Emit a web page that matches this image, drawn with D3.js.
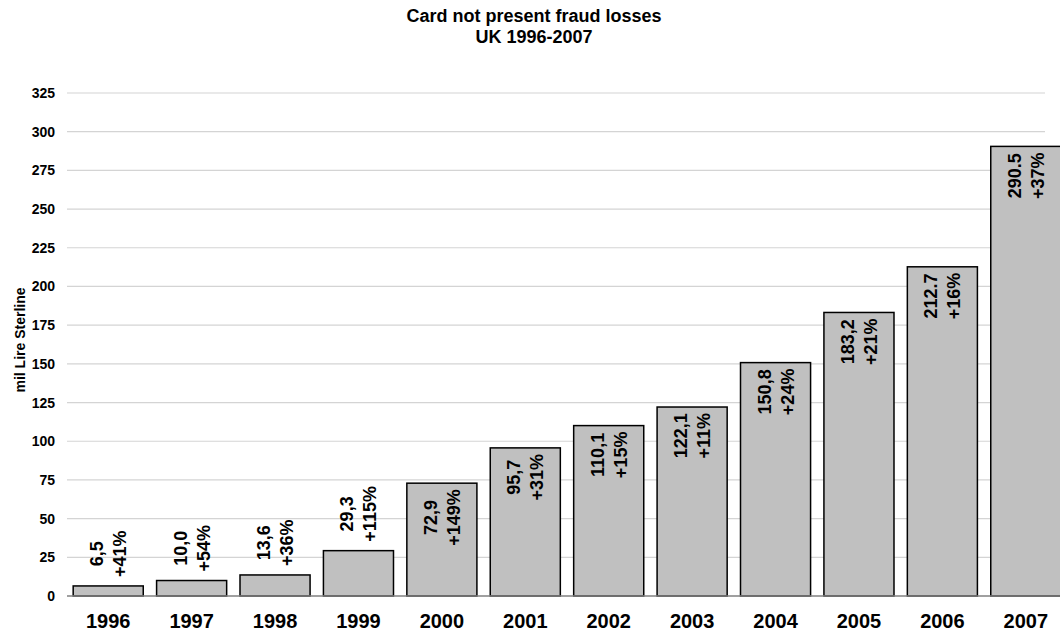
<!DOCTYPE html>
<html>
<head>
<meta charset="utf-8">
<script src="https://cdn.jsdelivr.net/npm/d3@7"></script>
<style>
  body { margin: 0; background: #fff; }
  text { font-family: "Liberation Sans", Arial, sans-serif; font-weight: 700; fill: #000; }
</style>
</head>
<body>
<div id="main"></div>
<script>
const years = ["1996", "1997", "1998", "1999", "2000", "2001", "2002", "2003", "2004", "2005", "2006", "2007"];
const losses = [6.5, 10.0, 13.6, 29.3, 72.9, 95.7, 110.1, 122.1, 150.8, 183.2, 212.7, 290.5];
const valueLabels = ["6,5", "10,0", "13,6", "29,3", "72,9", "95,7", "110,1", "122,1", "150,8", "183,2", "212.7", "290.5"];
const growthLabels = ["+41%", "+54%", "+36%", "+115%", "+149%", "+31%", "+15%", "+11%", "+24%", "+21%", "+16%", "+37%"];
const yTicks = [0, 25, 50, 75, 100, 125, 150, 175, 200, 225, 250, 275, 300, 325];

const ctx = {
    WIDTH: 1060,
    HEIGHT: 633,
    FONT: "'Liberation Sans', Arial, sans-serif"
};

function createViz(){
    const svg = d3.select("#main").append("svg")
        .attr("width", ctx.WIDTH)
        .attr("height", ctx.HEIGHT);

    const x = d3.scaleBand().domain(years)
        .range([66.5, 1067.5])
        .paddingInner(0.16)
        .paddingOuter(0.08);

    const y = d3.scaleLinear().domain([0, 325])
        .range([596, 93]);

    // title
    svg.append("text").attr("x", 534).attr("y", 22)
        .attr("text-anchor", "middle").style("font-size", "18px")
        .text("Card not present fraud losses");
    svg.append("text").attr("x", 534).attr("y", 43)
        .attr("text-anchor", "middle").style("font-size", "18px")
        .text("UK 1996-2007");

    // gridlines
    svg.append("g")
        .selectAll("line")
        .data(yTicks.filter(d => d > 0))
        .join("line")
        .attr("x1", 67).attr("x2", 1045)
        .attr("y1", d => y(d)).attr("y2", d => y(d))
        .attr("stroke", "#d4d4d4")
        .attr("stroke-width", 1.2);

    // y axis labels
    const yAxis = svg.append("g")
        .attr("transform", "translate(67,0)")
        .call(d3.axisLeft(y).tickValues(yTicks).tickSize(0).tickPadding(12));
    yAxis.select(".domain").remove();
    yAxis.selectAll("text")
        .style("font-size", "14px")
        .style("font-family", ctx.FONT)
        .style("font-weight", "700")
        .attr("fill", "#000");

    svg.append("text")
        .attr("transform", "translate(25,340) rotate(-90)")
        .attr("text-anchor", "middle")
        .style("font-size", "14px")
        .text("mil Lire Sterline");

    // bars
    svg.append("g")
        .selectAll("rect")
        .data(losses)
        .join("rect")
        .attr("x", (d, i) => x(years[i]))
        .attr("y", d => y(d))
        .attr("width", x.bandwidth())
        .attr("height", d => y(0) - y(d))
        .attr("fill", "#c0c0c0")
        .attr("stroke", "#000")
        .attr("stroke-width", 1.5);

    // baseline
    svg.append("line")
        .attr("x1", 67).attr("x2", 1060)
        .attr("y1", y(0)).attr("y2", y(0))
        .attr("stroke", "#808080")
        .attr("stroke-width", 1.5);

    // x axis labels
    const xAxis = svg.append("g")
        .attr("transform", `translate(0,${y(0)})`)
        .call(d3.axisBottom(x).tickSize(0).tickPadding(18));
    xAxis.select(".domain").remove();
    xAxis.selectAll("text")
        .style("font-size", "20px")
        .style("font-family", ctx.FONT)
        .style("font-weight", "700")
        .attr("fill", "#000");

    // data labels, rotated, two lines centred on each other
    losses.forEach((v, i) => {
        const cx = x(years[i]) + x.bandwidth() / 2;
        const g = svg.append("g");
        const lines = [valueLabels[i], growthLabels[i]];
        const texts = lines.map((s, k) => g.append("text")
            .attr("text-anchor", "middle")
            .attr("dominant-baseline", "central")
            .style("font-size", "18px")
            .text(s));
        const maxLen = d3.max(texts, t => t.node().getComputedTextLength());
        const inside = v > 50;
        const cy = inside ? y(v) + 6 + maxLen / 2 : y(v) - 9 - maxLen / 2;
        texts.forEach((t, k) => {
            const lx = cx + (k === 0 ? -11 : 12);
            t.attr("transform", `translate(${lx},${cy}) rotate(-90)`);
        });
    });
}

createViz();
</script>
</body>
</html>
